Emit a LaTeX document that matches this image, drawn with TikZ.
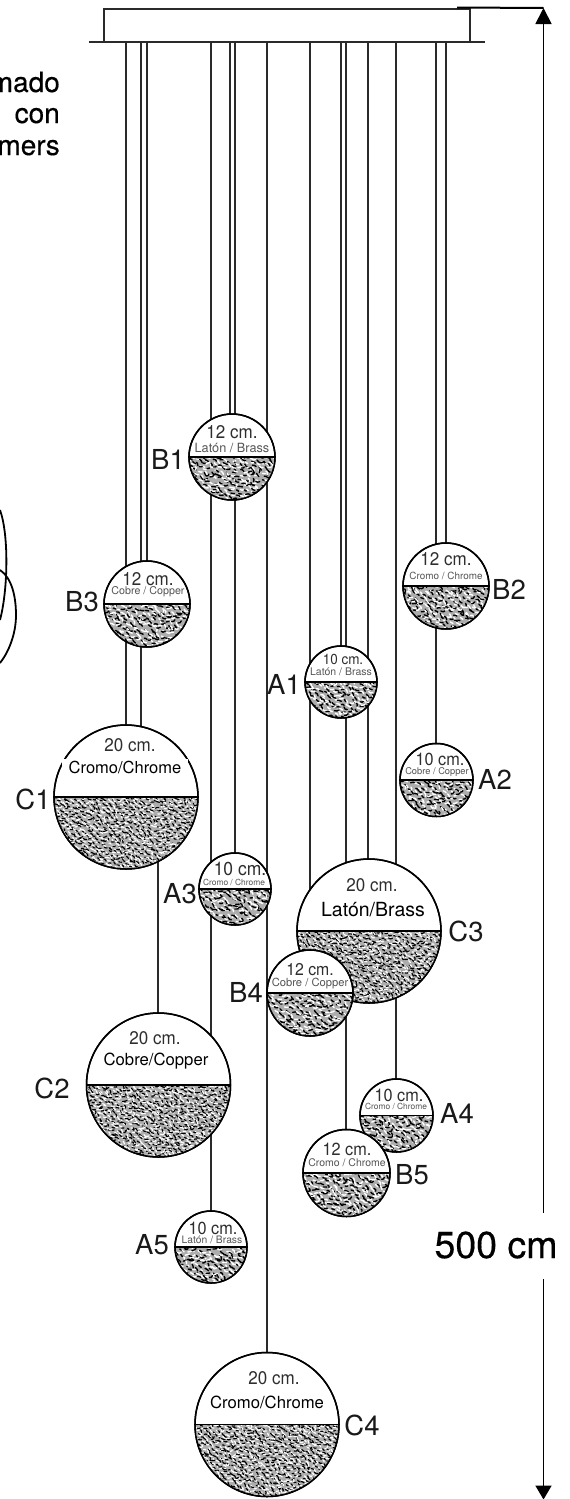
\documentclass[tikz,border=0pt]{standalone}
\usepackage{fontspec}
\setmainfont{TeX Gyre Heros}
\newfontfamily\medfont[FakeBold=0.4]{TeX Gyre Heros}
\newfontfamily\sizefont[FakeStretch=0.93]{TeX Gyre Heros}
\usetikzlibrary{arrows.meta}
\pgfdeclarelayer{background}
\pgfsetlayers{background,main}
\definecolor{inkline}{HTML}{2A2A2A}
\definecolor{sizegrey}{HTML}{2E2E2E}
\definecolor{matgrey}{HTML}{555555}
\newcommand{\fsz}[1]{\fontsize{#1}{#1}\selectfont}
\tikzset{
  cable/.style={draw=inkline,line width=1.7pt},
  canopyline/.style={draw=inkline,line width=1.7pt},
  dimline/.style={draw=black,line width=1.8pt},
  sphere/.style={circle,draw=black,line width=1.5pt,fill=white,inner sep=0pt,minimum size=#1},
  wormbase/.style={line cap=round,line join=round},
  sizetxt/.style={inner sep=0pt,text=sizegrey,font=\sizefont\fsz{#1}},
  mattxt/.style={inner sep=0pt,text=matgrey,font=\fsz{#1}},
  blacktxt/.style={inner sep=0pt,text=black,font=\fsz{#1}},
  tag/.style={inner sep=0pt,text=black!90,font=\fsz{27.5}},
  side/.style={inner sep=0pt,anchor=base east,text=black,font=\medfont\fsz{28}},
}
% name, cx, cy, r, cell, seed
\newcommand{\sph}[6]{%
  \node[sphere=#4*2pt] (#1) at (#2,#3) {};
  \begin{scope}
    \clip (#2,#3) circle [radius=#4pt];
    \clip (#2-#4,#3) rectangle (#2+#4,#3+#4);
    \fill[black!32] (#2-#4,#3) rectangle (#2+#4,#3+#4);
    \pgfmathsetseed{#6}
    \pgfmathtruncatemacro\nn{#4/#5+1}
    \pgfmathsetmacro\lw{#5*0.38}
    \foreach \i in {-\nn,...,\nn}{
      \foreach \j in {0,...,\nn}{
        \pgfmathsetmacro\ax{\i*#5+#5*(rnd-.5)}
        \pgfmathsetmacro\ay{\j*#5+#5*(rnd-.5)}
        \pgfmathtruncatemacro\keep{veclen(\ax,\ay)<(#4+#5)?1:0}
        \ifnum\keep=1
          \pgfmathsetmacro\ta{25+80*(rnd-.5)}
          \pgfmathsetmacro\tb{\ta+110*(rnd-.5)}
          \pgfmathsetmacro\la{#5*(.35+.35*rnd)}
          \pgfmathsetmacro\lb{#5*(.3+.4*rnd)}
          \pgfmathtruncatemacro\pick{mod(\i+\j+100,2)}
          \ifnum\pick=0
            \draw[wormbase,draw=black,line width=\lw pt] (#2+\ax,#3+\ay) -- ++(\ta:\la) -- ++(\tb:\lb);
          \else
            \draw[wormbase,draw=white,line width=\lw pt] (#2+\ax,#3+\ay) -- ++(\ta:\la) -- ++(\tb:\lb);
          \fi
        \fi
      }
    }
  \end{scope}
  \draw[draw=black,line width=1.5pt] (#1.center) circle [radius=#4pt];
  \draw[draw=black,line width=1.7pt] (#1.west) -- (#1.east);
}
\newcommand{\cable}[3]{\draw[cable] (#1,0 |- #2) -- (#1,0 |- #3);}
\begin{document}
\begin{tikzpicture}[x=1pt,y=-1pt]
\useasboundingbox (0,0) rectangle (570,1499);
% canopy
\node[canopyline,fill=white,inner sep=0pt,minimum width=366pt,minimum height=33pt] (canopy) at (287,25.5) {};
\coordinate (baseL) at (89,42);
\coordinate (baseR) at (485,42);
\draw[canopyline] (baseL) -- (baseR);

% spheres
\sph{B1}{232}{457}{43}{3.6}{11}
\sph{B3}{147}{604}{43}{3.6}{12}
\sph{B2}{446}{586}{43}{3.6}{13}
\sph{A1}{341}{682}{36}{3.6}{14}
\sph{A2}{436.5}{780}{36.5}{3.6}{15}
\sph{C1}{126}{797}{72}{3.0}{16}
\sph{A3}{235}{889}{36}{3.6}{17}
\sph{C3}{369}{931}{72}{3.0}{18}
\sph{B4}{310}{993}{43}{3.6}{19}
\sph{C2}{158.5}{1085}{72}{3.0}{20}
\sph{A4}{396.5}{1115.5}{36.5}{3.6}{21}
\sph{B5}{346.5}{1173}{43.5}{3.6}{22}
\sph{A5}{211}{1247}{36}{3.6}{23}
\sph{C4}{267}{1424.5}{72}{3.0}{24}

% cables
\begin{pgfonlayer}{background}
\cable{126}{canopy.south}{C1.center}
\cable{141}{canopy.south}{C1.center}
\cable{147}{canopy.south}{B3.center}
\cable{158}{C1.center}{C2.center}
\cable{211}{canopy.south}{A5.center}
\cable{230}{canopy.south}{B1.center}
\cable{235}{canopy.south}{A3.center}
\cable{267}{canopy.south}{C4.center}
\cable{310}{canopy.south}{C3.center}
\cable{341}{canopy.south}{A1.center}
\cable{346}{canopy.south}{B5.center}
\cable{368}{canopy.south}{C3.center}
\cable{396}{canopy.south}{A4.center}
\cable{436}{canopy.south}{A2.center}
\cable{446}{canopy.south}{B2.center}
\end{pgfonlayer}

% sphere texts
\node[sizetxt=18.3] (B1s) at (232,432) {12 cm.};
\node[mattxt=12.7] (B1m) at (232,448) {Latón / Brass};
\node[sizetxt=18.3] (B3s) at (148,579) {12 cm.};
\node[mattxt=10.7] (B3m) at (148,592) {Cobre / Copper};
\node[sizetxt=18.3] (B2s) at (446,559) {12 cm.};
\node[mattxt=9.9] (B2m) at (446,576) {Cromo / Chrome};
\node[sizetxt=14.5] (A1s) at (343,659) {10 cm.};
\node[mattxt=10.5] (A1m) at (341,672) {Latón / Brass};
\node[sizetxt=17.5] (A2s) at (440,759) {10 cm.};
\node[mattxt=9.3] (A2m) at (437,772) {Cobre / Copper};
\node[sizetxt=18.3] (C1s) at (130,745) {20 cm.};
\node[blacktxt=16.5,fill=white,minimum width=126pt,minimum height=17pt] (C1m) at (125,767) {Cromo/Chrome};
\node[sizetxt=18.8] (A3s) at (240,869) {10 cm.};
\node[mattxt=8.4] (A3m) at (234,882) {Cromo / Chrome};
\node[sizetxt=18.3] (C3s) at (372,885) {20 cm.};
\node[blacktxt=19.5] (C3m) at (373,910) {Latón/Brass};
\node[sizetxt=17] (B4s) at (310,970) {12 cm.};
\node[mattxt=11.2] (B4m) at (310,984) {Cobre / Copper};
\node[sizetxt=18.3] (C2s) at (155,1038) {20 cm.};
\node[blacktxt=16.7] (C2m) at (156,1061) {Cobre/Copper};
\node[sizetxt=17.5] (A4s) at (399,1095) {10 cm.};
\node[mattxt=8.4] (A4m) at (396,1106) {Cromo / Chrome};
\node[sizetxt=17.5] (B5s) at (347,1149) {12 cm.};
\node[mattxt=10.5] (B5m) at (347,1163) {Cromo / Chrome};
\node[sizetxt=17.5] (A5s) at (213,1228) {10 cm.};
\node[mattxt=10.3] (A5m) at (212,1240) {Latón / Brass};
\node[sizetxt=18.3] (C4s) at (274,1378) {20 cm.};
\node[blacktxt=16.7] (C4m) at (267,1402) {Cromo/Chrome};

% sphere tags
\node[tag] (tB1) at (168,459) {B1};
\node[tag] (tB3) at (82,602) {B3};
\node[tag] (tB2) at (509,589) {B2};
\node[tag] (tA1) at (284,684) {A1};
\node[tag] (tA2) at (495,779) {A2};
\node[tag] (tC1) at (33,799) {C1};
\node[tag] (tA3) at (180,894) {A3};
\node[tag] (tC3) at (466,931) {C3};
\node[tag] (tB4) at (246,992) {B4};
\node[tag] (tC2) at (52,1088) {C2};
\node[tag] (tA4) at (457,1113) {A4};
\node[tag] (tB5) at (412,1175) {B5};
\node[tag] (tA5) at (152,1245) {A5};
\node[tag] (tC4) at (362,1425) {C4};

% dimension
\coordinate (dimtop) at (543.5,8);
\coordinate (dimbot) at (543.5,1499.5);
\coordinate (gapa) at (543.5,1213);
\coordinate (gapb) at (543.5,1279);
\coordinate (dimstart) at (457,7.5);
\draw[dimline,line width=2pt] (dimstart) -- (dimtop);
\draw[dimline,{Triangle[width=16pt,length=16pt]}-] (dimtop) -- (gapa);
\draw[dimline,-{Triangle[width=16pt,length=14pt]}] (gapb) -- (dimbot);
\node[inner sep=0pt,anchor=base,text=black,font=\medfont\fsz{37.5}] (dimlabel) at (496,1258) {500 cm};

% cut-off text at the left edge
\node[side] (s1) at (60,92) {mado};
\node[side] (s2) at (60,123) {con};
\node[side] (s3) at (60,155) {mers};

% cut-off loops at the left edge
\draw[black,line width=1.8pt] (0,510) .. controls (9,535) and (8,590) .. (0,620);
\draw[black,line width=1.8pt] (0,570) .. controls (12,578) and (16,597) .. (16,615) .. controls (16,635) and (8,653) .. (0,663);
\end{tikzpicture}
\end{document}
